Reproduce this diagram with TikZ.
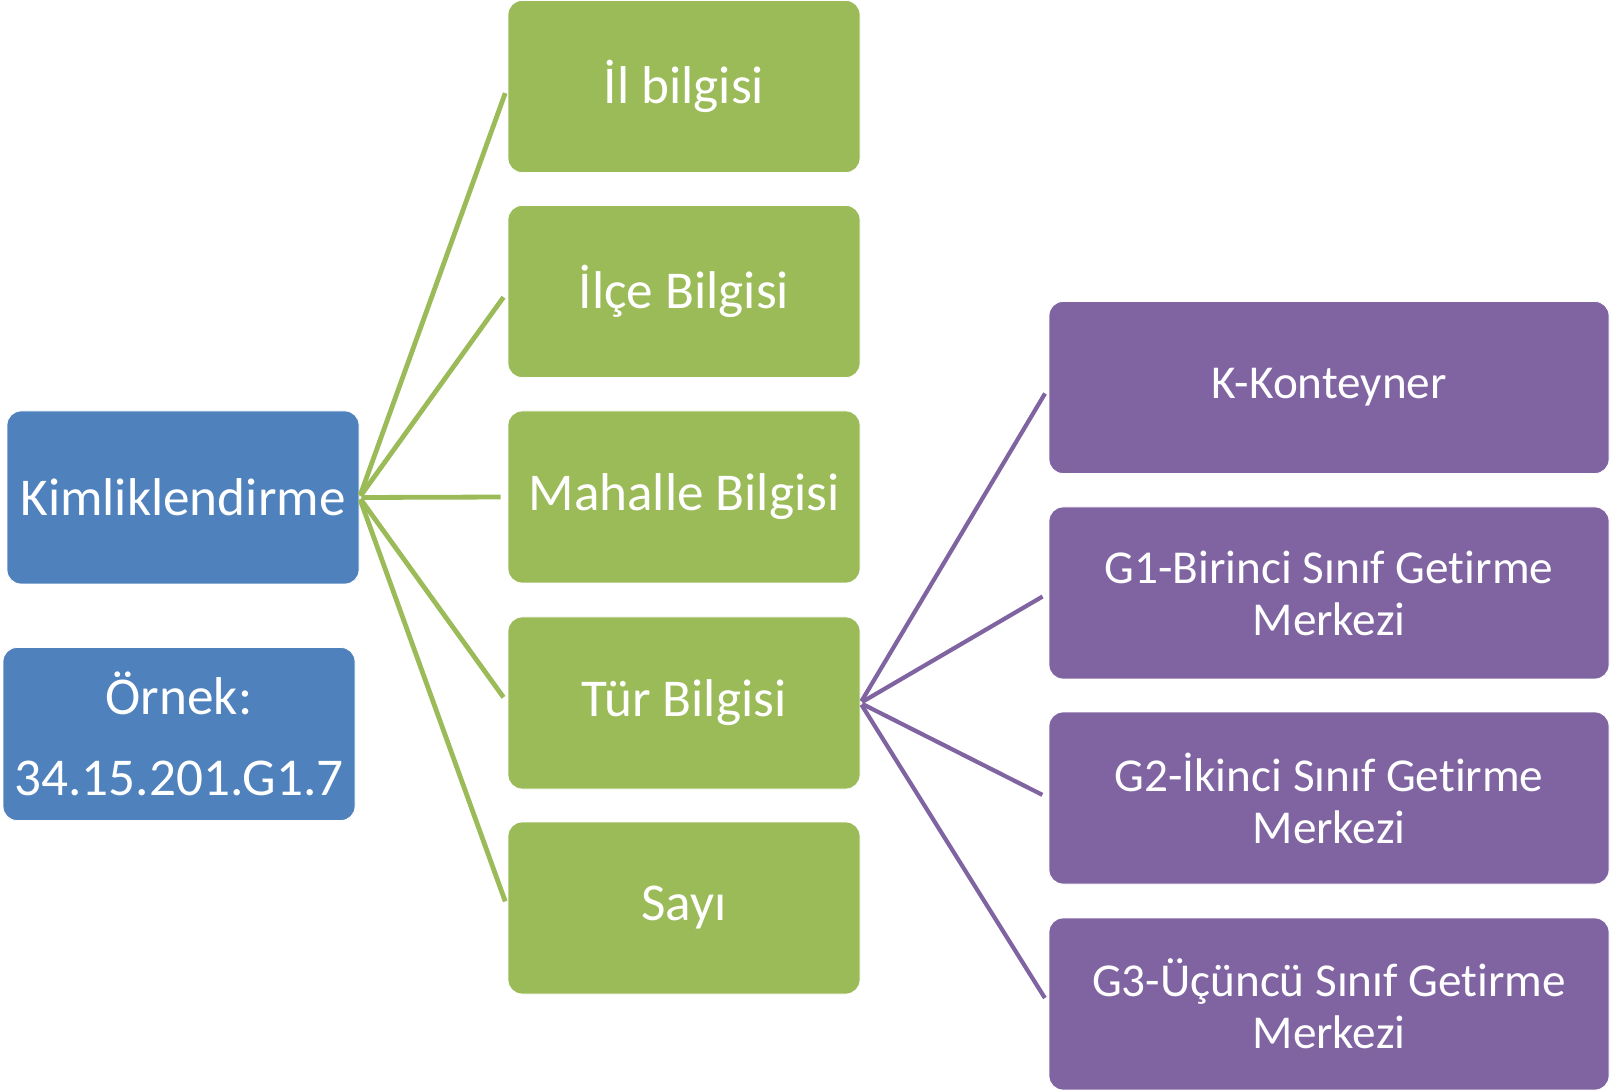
\documentclass[tikz,border=0pt]{standalone}
\usepackage{fontspec}
\setmainfont[Ligatures=NoCommon]{Carlito}
\usepackage{xcolor}
\definecolor{mavi}{HTML}{4F81BD}
\definecolor{yesil}{HTML}{9BBB59}
\definecolor{mor}{HTML}{8064A2}

\begin{document}
\begin{tikzpicture}[x=0.5pt,y=-0.5pt,
  kutu/.style={rectangle,rounded corners=7pt,draw=white,line width=0.4pt,text=white,align=center,inner sep=0pt},
  mavikutu/.style={kutu,fill=mavi,minimum width=176pt,minimum height=86.5pt,font=\fontsize{26.6}{40.5}\selectfont},
  yesilkutu/.style={kutu,fill=yesil,minimum width=176pt,minimum height=86pt,font=\fontsize{26.6}{33}\selectfont},
  morkutu/.style={kutu,fill=mor,minimum width=280pt,minimum height=86pt,font=\fontsize{23.6}{26}\selectfont},
  yesilcizgi/.style={draw=yesil,line width=2.4pt,shorten >=3.5pt,shorten <=1pt},
  morcizgi/.style={draw=mor,line width=2.1pt,shorten >=3.5pt,shorten <=1pt}]
\useasboundingbox (0,0) rectangle (1612,1090);
\node[mavikutu] (kimlik) at (183,497.5) {Kimliklendirme};
\node[mavikutu] (ornek) at (179,734) {Örnek:\\34.15.201.G1.7};
\node[yesilkutu] (il) at (684,86.5) {İl bilgisi};
\node[yesilkutu] (ilce) at (684,291.5) {İlçe Bilgisi};
\node[yesilkutu] (mahalle) at (684,497) {Mahalle Bilgisi};
\node[yesilkutu] (tur) at (684,703) {Tür Bilgisi};
\node[yesilkutu] (sayi) at (684,908) {Sayı};
\node[morkutu] (konteyner) at (1329,387.5) {K-Konteyner};
\node[morkutu] (birinci) at (1329,593) {G1-Birinci Sınıf Getirme\\Merkezi};
\node[morkutu] (ikinci) at (1329,798) {G2-İkinci Sınıf Getirme\\Merkezi};
\node[morkutu] (ucuncu) at (1329,1004) {G3-Üçüncü Sınıf Getirme\\Merkezi};
% kimliklendirme dallari
\draw[yesilcizgi] (kimlik.east) -- (il.west);
\draw[yesilcizgi] (kimlik.east) -- (ilce.west);
\draw[yesilcizgi] (kimlik.east) -- (mahalle.west);
\draw[yesilcizgi] (kimlik.east) -- (tur.west);
\draw[yesilcizgi] (kimlik.east) -- (sayi.west);
% tur dallari
\draw[morcizgi] (tur.east) -- (konteyner.west);
\draw[morcizgi] (tur.east) -- (birinci.west);
\draw[morcizgi] (tur.east) -- (ikinci.west);
\draw[morcizgi] (tur.east) -- (ucuncu.west);
\end{tikzpicture}
\end{document}
